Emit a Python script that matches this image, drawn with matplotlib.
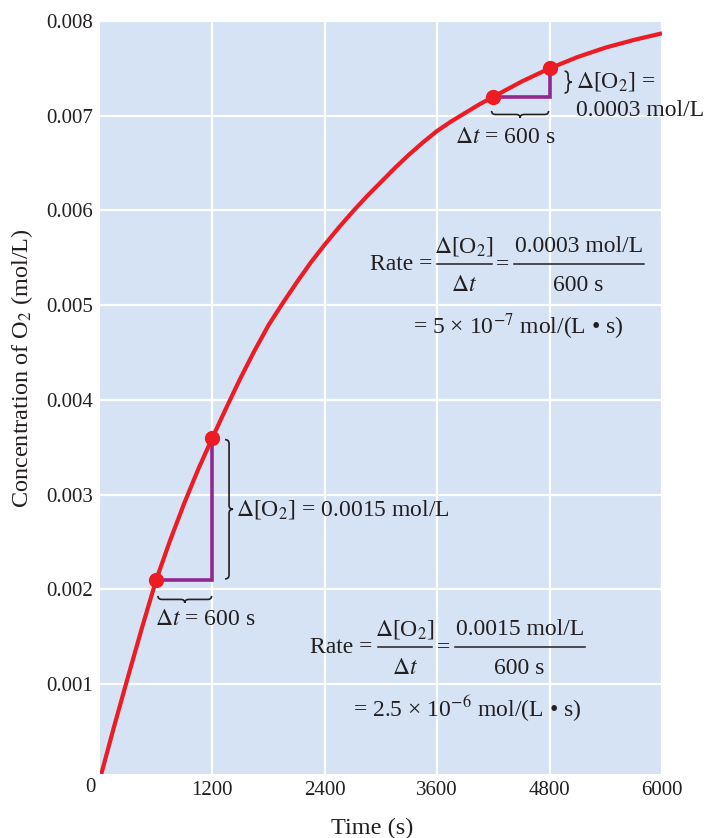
import matplotlib
matplotlib.use("Agg")
import matplotlib.pyplot as plt
from matplotlib.path import Path
from matplotlib.patches import PathPatch

plt.rcParams['font.family'] = ['Liberation Serif', 'DejaVu Serif']
plt.rcParams['mathtext.fontset'] = 'stix'

# curve
time_s = [0, 150, 300, 450, 600, 750, 900, 1050, 1200, 1350, 1500, 1650,
          1800, 1950, 2100, 2250, 2400, 2550, 2700, 2850, 3000, 3150, 3300,
          3450, 3600, 3750, 3900, 4050, 4200, 4500, 4800, 5100, 5400, 5700,
          6000]
conc_o2 = [0.0, 0.00055, 0.00108, 0.0016, 0.0021, 0.00252, 0.00291, 0.00327,
           0.0036, 0.00392, 0.00423, 0.00452, 0.00479, 0.00502, 0.00524,
           0.00545, 0.00564, 0.00582, 0.00599, 0.00615, 0.0063, 0.00645,
           0.00659, 0.00672, 0.00684, 0.00694, 0.00703, 0.00712, 0.0072,
           0.00736, 0.0075, 0.00762, 0.00772, 0.0078, 0.00787]

# the two intervals used for the rate
early_t = [600, 1200]
early_c = [0.0021, 0.0036]
late_t = [4200, 4800]
late_c = [0.0072, 0.0075]

x_ticks = [1200, 2400, 3600, 4800, 6000]
y_ticks = [0.001, 0.002, 0.003, 0.004, 0.005, 0.006, 0.007, 0.008]

RED = '#ed1c24'
PURPLE = '#92278f'
INK = '#231f20'
BG = '#d5e3f5'

fig = plt.figure(figsize=(7.10, 8.38), dpi=100)
ax = fig.add_axes([100 / 710, 1 - 774 / 838, 562 / 710, 753 / 838])
ax.set_facecolor(BG)
ax.set_xlim(0, 6000)
ax.set_ylim(0.00005, 0.008)
for s in ax.spines.values():
    s.set_visible(False)

ax.set_xticks(x_ticks)
ax.set_xticklabels([str(v) for v in x_ticks])
ax.set_yticks(y_ticks)
ax.set_yticklabels(['%.3f' % v for v in y_ticks])
ax.tick_params(length=0, labelsize=15, colors=INK, pad=5)
ax.grid(True, color='white', lw=1.6)
ax.set_axisbelow(True)

ax.plot(time_s, conc_o2, color=RED, lw=3, solid_joinstyle='round',
        solid_capstyle='butt', zorder=3)

# purple step triangles
for tt, cc in [(early_t, early_c), (late_t, late_c)]:
    ax.plot([tt[0], tt[1], tt[1]], [cc[0], cc[0], cc[1]], color=PURPLE,
            lw=2.6, zorder=2, solid_joinstyle='miter')
    ax.plot(tt, cc, 'o', color=RED, ms=10, zorder=4)

# pixel -> data scale
px_x = 6000 / 562
px_y = (0.008 - 0.00005) / 753


def brace(a, b, c, d, vertical=False, r=4):
    # curly brace from a to b along one axis, at c, tip depth d (data units)
    m = (a + b) / 2
    ra = r * (px_y if vertical else px_x)
    if b < a:
        ra = -ra
    h = c + d / 2
    pts = [(a, c), (a, h), (a + ra, h), (m - ra, h), (m, h), (m, c + d),
           (m, h), (m + ra, h), (b - ra, h), (b, h), (b, c)]
    codes = [Path.MOVETO, Path.CURVE3, Path.CURVE3, Path.LINETO,
             Path.CURVE3, Path.CURVE3, Path.CURVE3, Path.CURVE3,
             Path.LINETO, Path.CURVE3, Path.CURVE3]
    if vertical:
        pts = [(q, p) for p, q in pts]
    ax.add_patch(PathPatch(Path(pts, codes), fc='none', ec=INK, lw=1.2,
                           zorder=5, clip_on=False))


brace(619, 1191, 0.00193, -7 * px_y)
brace(0.00358, 0.00211, 1335, 8 * px_x, vertical=True)
brace(4181, 4789, 0.00705, -7 * px_y)
brace(0.00747, 0.00724, 4960, 7 * px_x, vertical=True)

fs = 17
kw = dict(color=INK, fontsize=fs, zorder=6)
ax.text(1450, 0.00284, r'$\Delta$[O$_2$] = 0.0015 mol/L', ha='left', va='center', **kw)
ax.text(585, 0.00168, r'$\Delta t$ = 600 s', ha='left', va='center', **kw)
ax.text(3785, 0.00677, r'$\Delta t$ = 600 s', ha='left', va='center', **kw)
ax.text(5085, 0.00736, r'$\Delta$[O$_2$] =', ha='left', va='center', **kw)
ax.text(5085, 0.00705, '0.0003 mol/L', ha='left', va='center', clip_on=False, **kw)


# rate expressions
def rate(x0, yc, f1, f2, num, line2, x2):
    ax.text(x0, yc, 'Rate =', ha='left', va='center', **kw)
    ax.plot(f1, [yc, yc], color=INK, lw=1.1, zorder=6)
    m1 = sum(f1) / 2
    ax.text(m1, yc + 18 * px_y, r'$\Delta$[O$_2$]', ha='center', va='center', **kw)
    ax.text(m1, yc - 21 * px_y, r'$\Delta t$', ha='center', va='center', **kw)
    ax.text((f1[1] + f2[0]) / 2, yc, '=', ha='center', va='center', **kw)
    ax.plot(f2, [yc, yc], color=INK, lw=1.1, zorder=6)
    m2 = sum(f2) / 2
    ax.text(m2, yc + 18 * px_y, num, ha='center', va='center', **kw)
    ax.text(m2, yc - 21 * px_y, '600 s', ha='center', va='center', **kw)
    ax.text(x2, yc - 62 * px_y, line2, ha='left', va='center', **kw)


rate(2880, 0.00543, [3595, 4181], [4416, 5803], '0.0003 mol/L',
     r'= 5 × 10$^{-7}$ mol/(L • s)', 3339)
rate(2240, 0.00139, [2965, 3541], [3787, 5173], '0.0015 mol/L',
     r'= 2.5 × 10$^{-6}$ mol/(L • s)', 2699)

fig.text(90 / 710, 1 - 787 / 838, '0', ha='center', va='center', color=INK, fontsize=15)
fig.text(372 / 710, 1 - 828 / 838, 'Time (s)', ha='center', va='center', color=INK, fontsize=17.5)
fig.text(22 / 710, 1 - 368 / 838, r'Concentration of O$_2$ (mol/L)', ha='center',
         va='center', rotation=90, color=INK, fontsize=17.5)

fig.savefig('out.png', dpi=100)
